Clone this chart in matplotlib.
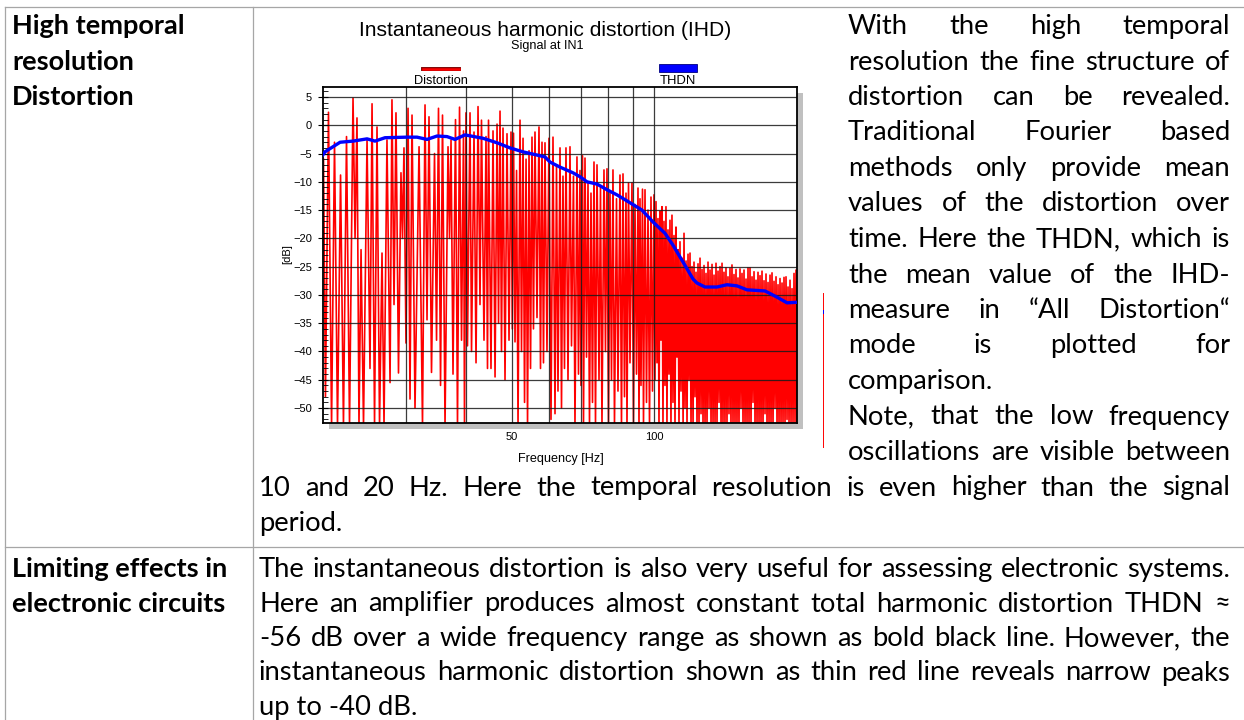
import matplotlib
matplotlib.use("Agg")
import matplotlib.pyplot as plt
import matplotlib.patheffects as pe
from matplotlib.lines import Line2D
from matplotlib.patches import Rectangle
from matplotlib.ticker import MultipleLocator, NullLocator

W, H = 1244, 720
CHART = ["Liberation Sans", "DejaVu Sans"]
BODY = ["Lato", "DejaVu Sans"]
plt.rcParams["font.family"] = CHART

# THDN, mean distortion (blue)
thdn_freq = [20.0, 20.19, 21.73, 23.14, 24.77, 25.75, 27.03, 30.08, 31.58, 33.15,
             34.80, 36.53, 37.98, 39.87, 43.51, 46.58, 49.61, 52.85, 55.47, 58.80,
             60.25, 63.25, 67.36, 69.69, 72.11, 75.70, 79.46, 83.41, 88.86, 94.19,
             99.36, 105.32, 109.5, 115.0, 120.7, 123.05, 127.93, 135.61, 142.34, 149.43,
             156.88, 171.22, 181.5, 190.53, 200.0]
thdn_db = [-5.2, -4.7, -3.0, -2.8, -2.4, -2.8, -2.2, -2.1, -2.1, -2.5,
           -1.9, -2.0, -2.5, -1.7, -2.3, -3.1, -4.0, -4.7, -5.1, -5.6,
           -6.5, -7.4, -8.4, -9.1, -10.0, -10.4, -11.4, -12.3, -13.7, -15.0,
           -17.1, -19.1, -21.2, -24.2, -27.2, -27.9, -28.6, -28.6, -28.2, -28.4,
           -29.1, -29.3, -30.4, -31.4, -31.3]

# instantaneous harmonic distortion (red), peaks and dips
dist_freq = [
    20.05, 20.24, 20.54, 20.85, 21.15, 21.46, 21.78, 22.09, 22.42, 22.75,
    23.14, 23.37, 23.59, 23.82, 24.06, 24.35, 24.77, 25.13, 25.38, 25.69,
    26.00, 26.32, 26.64, 26.90, 27.29, 27.70, 27.96, 28.24, 28.51, 28.86,
    29.21, 29.43, 29.64, 29.93, 30.23, 30.52, 30.82,
    31.27, 31.89, 32.43, 32.83, 33.15, 33.47, 33.88, 34.38, 34.72, 35.05,
    35.40, 35.74, 36.18, 36.71, 36.98, 37.25, 37.61, 38.07, 38.44, 38.82,
    39.20, 39.58, 39.77, 40.06, 40.35, 40.85, 41.15, 41.65, 42.06, 42.47,
    42.88, 43.19, 43.72, 44.15, 44.47, 44.69, 45.23, 45.68, 46.13, 46.58,
    46.92, 47.26, 47.60, 47.95, 48.42, 48.89, 49.37, 49.85,
    50.17, 50.46, 50.83, 51.21, 51.58, 52.08, 52.46, 52.85, 53.24, 53.63,
    54.02, 54.41, 54.81, 55.20, 55.60, 56.01, 56.56, 57.11, 57.53, 57.95,
    58.37, 58.80, 59.37, 59.95, 60.54, 61.13, 61.73, 62.18, 62.63, 63.25,
    63.71, 64.17, 64.64, 65.11, 65.75, 66.39, 66.88, 67.52, 68.02, 68.68,
    69.19, 69.69, 70.03, 70.55, 70.89, 71.41, 71.94, 72.46, 72.99, 73.52,
    74.06, 74.60, 75.15, 75.70, 76.44, 76.99, 77.55, 78.31, 78.88, 79.46,
    80.04, 80.63, 81.22, 81.81, 82.41, 83.22, 83.82, 84.64, 85.26, 85.89,
    86.52, 87.15, 87.57, 88.22, 88.86, 89.72, 90.38, 91.04, 91.71, 92.38,
    92.83, 93.28, 93.73, 94.42, 94.88, 95.58, 96.28, 96.98, 97.69, 98.40,
    99.12, 99.85, 100.33,
    100.82, 101.31, 101.80, 102.30, 102.80, 103.30, 103.80, 104.30, 104.81, 105.32,
    105.83, 106.34, 106.87, 107.39, 107.91, 108.43, 108.96, 109.50, 110.03, 110.57,
    111.11, 111.65, 112.19, 112.74, 113.29, 113.84, 114.40, 115.00, 115.52, 116.08,
    116.65, 117.22, 117.79, 118.36, 118.94, 119.52, 120.10, 120.70, 121.27, 121.86,
    122.45, 123.05, 123.65, 124.25, 124.86, 125.47, 126.08, 126.69, 127.31, 127.93,
    128.55, 129.18, 129.81, 130.44, 131.08, 131.72, 132.36, 133.00, 133.65, 134.30,
    134.95, 135.61, 136.27, 136.94, 137.60, 138.28, 138.95, 139.60, 140.28, 140.96,
    141.65, 142.34, 143.03, 143.73, 144.43, 145.13, 145.84, 146.56, 147.27, 147.99,
    148.71, 149.43, 150.16, 150.89, 151.63, 152.37, 153.11, 153.86, 154.61, 155.36,
    156.12, 156.88, 157.64, 158.41, 159.18, 159.96, 160.74, 161.52, 162.31, 163.10,
    163.89, 164.69, 165.49, 166.30, 167.11, 167.92, 168.74, 169.56, 170.39, 171.22,
    172.05, 172.89, 173.73, 174.58, 175.43, 176.28, 177.14, 178.00, 178.87, 179.74,
    180.62, 181.50, 182.38, 183.27, 184.16, 185.06, 185.96, 186.86, 187.77, 188.69,
    189.61, 190.53, 191.46, 192.39, 193.33, 194.27, 195.22, 196.16, 197.12, 198.08,
    199.04, 200.00,
]
dist_db = [
    -6.0, -48, 2.3, -53, -3.0, -53, -8.8, -53, -2.0, -53,
    4.8, -20, 1.3, -53, -22, -53, -2.6, -43, 3.8, -53,
    -0.3, -53, -22.6, -53, -2.6, -45.5, 4.5, -31.7, 2.2, -43.8,
    -8.4, -20, -4.0, -38.5, 3.0, -48.4, 1.8,
    -50, -3.8, -53, 3.6, -34.4, 1.5, -43.7, -5.0, -38, 3.0,
    -46, 1.8, -53, -3.8, -20, -2.6, -44, 1.0, -53, 3.2,
    -38, -1.0, -53, 2.2, -39, 2.2, -40, -1.2, -42, 3.3,
    -31.7, 0.9, -38, -2.0, -43, 0.9, -43, -1.0, -44.5, 0.2,
    -35, 2.5, -40, -0.5, -45, -1.5, -38, -1.2,
    -36, -1.4, -38.3, -8, -53, 0.9, -40, -2.3, -49, -6,
    -53, -4.5, -43, -2.1, -36, -1.2, -34, -0.3, -43, -3.0,
    -42, -3.1, -40, -2.3, -52, -2.1, -51, -7, -47, -4.0,
    -50, -9, -43, -4.0, -45, -3.8, -39, -9, -53, -5.6,
    -44, -8, -46, -5.4, -53, -5.8, -41, -10, -53, -12,
    -49, -6.5, -53, -7.0, -45, -11, -53, -7.9, -40, -7.7,
    -53, -12, -45, -7.9, -53, -13, -47, -8.8, -53, -8.6,
    -48, -12, -53, -10.2, -42, -10.2, -53, -14, -44, -11.1,
    -53, -13, -46, -11.3, -53, -11.4, -49, -15, -53, -12.7,
    -47, -12.3, -45,
    -13.5, -42, -16.5, -53, -15.2, -38, -14.4, -53, -17.0, -46,
    -14.4, -53, -18.5, -44, -16.8, -53, -15.9, -49, -19.5, -53,
    -18.0, -41, -22.0, -53, -20.6, -47, -23.5, -53, -19.1, -50,
    -24.0, -53, -22.8, -45, -22.6, -53, -25.0, -53, -24.2, -48,
    -26.0, -53, -24.5, -53, -23.5, -51, -25.5, -53, -24.8, -53,
    -26.2, -53, -24.2, -50, -25.6, -53, -24.6, -53, -26.5, -53,
    -24.4, -53, -25.8, -49, -25.0, -53, -24.4, -53, -26.0, -53,
    -25.2, -53, -26.8, -51, -25.3, -53, -24.7, -53, -26.4, -53,
    -25.5, -53, -27.0, -53, -25.4, -50, -26.2, -53, -25.6, -53,
    -27.2, -53, -25.2, -53, -25.2, -53, -26.8, -49, -25.9, -53,
    -27.4, -53, -26.0, -53, -26.6, -53, -25.8, -53, -27.5, -51,
    -26.3, -53, -27.8, -53, -26.5, -53, -26.1, -53, -27.6, -50,
    -26.8, -53, -28.2, -53, -27.1, -53, -27.9, -53, -26.9, -53,
    -26.8, -52, -28.6, -53, -27.4, -53, -28.9, -53, -26.2, -53,
    -25.6, -53,
]

y_ticks = [5, 0, -5, -10, -15, -20, -25, -30, -35, -40, -45, -50]
x_grid = [30, 40, 50, 60, 70, 80, 90, 100]
x_labels = ["", "", "50", "", "", "", "", "100"]

header_1 = ["High temporal", "resolution", "Distortion"]
header_2 = ["Limiting effects in", "electronic circuits"]
# (text, justified)
side_lines = [
    ("With the high temporal", True),
    ("resolution the fine structure of", True),
    ("distortion can be revealed.", True),
    ("Traditional Fourier based", True),
    ("methods only provide mean", True),
    ("values of the distortion over", True),
    ("time. Here the THDN, which is", True),
    ("the mean value of the IHD-", True),
    ("measure in \u201cAll Distortion\u201c", True),
    ("mode is plotted for", True),
    ("comparison.", False),
    ("Note, that the low frequency", True),
    ("oscillations are visible between", True),
]
wide_lines = [
    ("10 and 20 Hz. Here the temporal resolution is even higher than the signal", True),
    ("period.", False),
]
row2_lines = [
    ("The instantaneous distortion is also very useful for assessing electronic systems.", True),
    ("Here an amplifier produces almost constant total harmonic distortion THDN \u2248", True),
    ("-56 dB over a wide frequency range as shown as bold black line. However, the", True),
    ("instantaneous harmonic distortion shown as thin red line reveals narrow peaks", True),
    ("up to -40 dB.", False),
]

fig = plt.figure(figsize=(W / 100, H / 100), dpi=100)
renderer = fig.canvas.get_renderer()


def fx(x):
    return x / W


def fy(y):
    return 1 - y / H


def width_px(s, size, family, weight="normal"):
    t = fig.text(0, 0, s, fontsize=size, family=family, fontweight=weight)
    w = t.get_window_extent(renderer).width
    t.remove()
    return w


def fit(s, target, family, weight="normal"):
    return 20 * target / width_px(s, 20, family, weight)


def put_line(s, x0, x1, base, size, justify=True, weight="normal"):
    words = s.split()
    if not justify or len(words) < 2:
        fig.text(fx(x0), fy(base), s, fontsize=size, family=BODY,
                 fontweight=weight, va="baseline")
        return
    ws = [width_px(w, size, BODY, weight) for w in words]
    gap = (x1 - x0 - sum(ws)) / (len(words) - 1)
    x = x0
    for w, wd in zip(words, ws):
        fig.text(fx(x), fy(base), w, fontsize=size, family=BODY,
                 fontweight=weight, va="baseline")
        x += wd + gap


def hline(x0, x1, y, **kw):
    fig.add_artist(Line2D([fx(x0), fx(x1)], [fy(y), fy(y)], transform=fig.transFigure, **kw))


def vline(x, y0, y1, **kw):
    fig.add_artist(Line2D([fx(x), fx(x)], [fy(y0), fy(y1)], transform=fig.transFigure, **kw))


# table grid
border = dict(color="#a6a6a6", lw=0.9)
hline(5, W, 7, **border)
hline(5, W, 547, **border)
vline(5, 7, H, **border)
vline(253, 7, H, **border)

# page text
body_size = fit("comparison.", 146, BODY)
bold_size = fit("High temporal", 173, BODY, "bold")

for k, s in enumerate(header_1):
    put_line(s, 12, 250, 34 + 35.5 * k, bold_size, False, "bold")
for k, s in enumerate(header_2):
    put_line(s, 12, 250, 577 + 34.5 * k, bold_size, False, "bold")
for k, (s, j) in enumerate(side_lines):
    put_line(s, 848, 1230, 34 + 35.5 * k, body_size, j)
for k, (s, j) in enumerate(wide_lines):
    put_line(s, 259, 1230, 34 + 35.5 * (k + 13), body_size, j)
for k, (s, j) in enumerate(row2_lines):
    put_line(s, 259, 1230, 577 + 34.5 * k, body_size, j)

# chart
fig.add_artist(Rectangle((fx(329), fy(429)), 474 / W, 336 / H, transform=fig.transFigure,
                         facecolor="#c0c0c0", edgecolor="none", zorder=-1))
ax = fig.add_axes([fx(323), fy(423), 474 / W, 336 / H])
ax.plot(dist_freq, dist_db, color="#ff0000", lw=1.2, zorder=1)
ax.plot(thdn_freq, thdn_db, color="#0000ff", lw=2.4, zorder=3)
ax.set_xscale("log")
ax.set_xlim(20, 200)
ax.set_ylim(-52.65, 6.77)
ax.set_xticks(x_grid, x_labels)
ax.xaxis.set_minor_locator(NullLocator())
ax.set_yticks(y_ticks)
ax.yaxis.set_minor_locator(MultipleLocator(1))
ax.tick_params(axis="x", length=0, pad=6.5, labelsize=8)
ax.tick_params(axis="y", which="major", direction="inout", length=7, width=0.8,
               pad=4.5, labelsize=8)
ax.tick_params(axis="y", which="minor", direction="in", length=3.5, width=0.6)
ax.grid(True, which="major", color="#1a1a1a", lw=0.9, alpha=0.85)
for sp in ax.spines.values():
    sp.set_linewidth(1.3)

fig.text(fx(545), fy(30), "Instantaneous harmonic distortion (IHD)",
         fontsize=fit("Instantaneous harmonic distortion (IHD)", 370, CHART),
         ha="center", va="center")
fig.text(fx(547), fy(46), "Signal at IN1", fontsize=fit("Signal at IN1", 72, CHART),
         ha="center", va="center")
fig.text(fx(441), fy(80.5), "Distortion", fontsize=fit("Distortion", 54, CHART),
         ha="center", va="center")
fig.text(fx(678), fy(80.5), "THDN", fontsize=fit("THDN", 36, CHART), ha="center", va="center")
fig.add_artist(Line2D([fx(423), fx(459)], [fy(69), fy(69)], transform=fig.transFigure,
                      color="#ff0000", lw=1.8,
                      path_effects=[pe.Stroke(linewidth=2.8, foreground="#7a0000"), pe.Normal()]))
fig.add_artist(Rectangle((fx(659), fy(72)), 38 / W, 8 / H, transform=fig.transFigure,
                         facecolor="#0000ff", edgecolor="#000080", lw=0.6))
fig.text(fx(561), fy(459), "Frequency [Hz]", fontsize=fit("Frequency [Hz]", 85, CHART),
         ha="center", va="center")
fig.text(fx(287), fy(254), "[dB]", fontsize=8, rotation=90, ha="center", va="center")

# edge of the next picture in the page
vline(823, 293, 447, color="#ff0000", lw=0.7)
vline(823, 310, 313, color="#0000ff", lw=0.7)

fig.savefig("out.png", dpi=100)
